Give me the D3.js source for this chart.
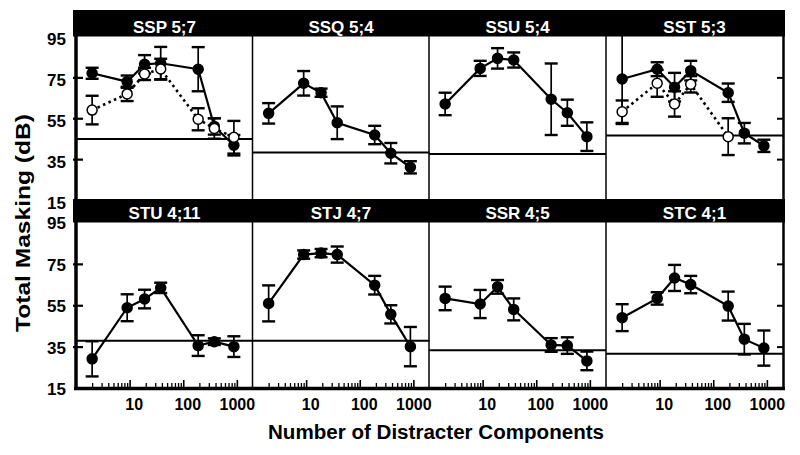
<!DOCTYPE html>
<html><head><meta charset="utf-8">
<script src="https://cdn.jsdelivr.net/npm/d3@7"></script>
<style>
body{margin:0;background:#fff}
svg{display:block}
text{font-family:"Liberation Sans",Arial,Helvetica,sans-serif;font-weight:bold;fill:#000}
</style>
</head><body><svg id="c" width="800" height="455"></svg>
<script>
// ---------- data ----------
const xValues = [2, 9, 19, 38, 190, 380, 880];           // number of distracter components
const panelNames = ["SSP 5;7", "SSQ 5;4", "SSU 5;4", "SST 5;3",
                    "STU 4;11", "STJ 4;7", "SSR 4;5", "STC 4;1"];

const sspFilled = [77.0, 72.9, 81.4, 81.9, 79.0, 51.0, 41.8];
const sspFilledErr = [2.7, 3.0, 4.5, 8.0, 10.8, 4.0, 5.0];
const sspOpen = [59.0, 66.9, 76.7, 79.1, 54.5, 50.0, 45.7];
const sspOpenErr = [7.0, 3.5, 3.0, 5.0, 5.4, 5.0, 8.0];

const ssqFilled = [57.4, 72.1, 67.5, 52.8, 46.8, 37.9, 31.0];
const ssqFilledErr = [5.0, 6.0, 2.0, 8.0, 4.5, 5.0, 3.0];

const ssuFilled = [62.0, 79.4, 84.3, 83.5, 64.3, 57.7, 46.0];
const ssuFilledErr = [5.5, 3.7, 5.0, 3.7, 17.5, 6.4, 7.0];

const sstFilled = [74.2, 79.0, 70.2, 78.3, 67.5, 47.7, 41.5];
const sstFilledErr = [22.0, 3.4, 7.0, 4.8, 4.5, 5.0, 3.0];
const sstOpen = [58.2, 72.1, 62.0, 71.6, 46.0];
const sstOpenErr = [5.5, 6.6, 6.2, 4.0, 9.0];

const stuFilled = [29.1, 53.8, 58.0, 63.4, 35.5, 37.4, 35.0];
const stuFilledErr = [8.5, 6.5, 4.5, 2.5, 5.0, 1.6, 5.0];

const stjFilled = [55.9, 79.5, 80.2, 79.5, 64.7, 50.6, 35.0];
const stjFilledErr = [8.7, 2.0, 2.0, 3.9, 4.5, 4.4, 9.5];

const ssrFilled = [58.3, 55.6, 63.9, 53.0, 35.8, 35.5, 28.1];
const ssrFilledErr = [5.7, 6.8, 3.3, 5.3, 3.3, 4.0, 4.5];

const stcFilled = [49.0, 58.3, 68.2, 65.0, 54.6, 38.6, 34.3];
const stcFilledErr = [6.5, 3.0, 6.3, 4.2, 7.0, 7.4, 8.5];

const referenceLevels = [44.9, 38.2, 37.5, 46.5, 37.9, 37.9, 33.3, 31.5];
const yTickLabels = [15, 35, 55, 75, 95];
const yInnerTicks = [35, 55, 75];
const xTickLabels = [10, 100, 1000];
const xMinorTicks = [2,3,4,5,6,7,8,9,20,30,40,50,60,70,80,90,200,300,400,500,600,700,800,900];

const filledSets = [
  [sspFilled, sspFilledErr], [ssqFilled, ssqFilledErr], [ssuFilled, ssuFilledErr], [sstFilled, sstFilledErr],
  [stuFilled, stuFilledErr], [stjFilled, stjFilledErr], [ssrFilled, ssrFilledErr], [stcFilled, stcFilledErr]
];
const openSets = [[sspOpen, sspOpenErr], null, null, [sstOpen, sstOpenErr], null, null, null, null];

// ---------- layout ----------
const svg = d3.select("#c");
const colLeft = [76, 252.5, 429, 606];
const panelW = 177;
const rows = [
  {band: 10, top: 36.5, bottom: 200},
  {band: 199, top: 222.5, bottom: 388}
];

const toPts = (vals, errs) => vals.map((v, i) => ({x: xValues[i], v: v, e: errs[i]}));

function drawSeries(g, x, y, pts, open) {
  const eb = g.append("g");
  pts.forEach(p => {
    const cx = x(p.x);
    eb.append("line").attr("x1", cx).attr("x2", cx)
      .attr("y1", y(p.v + p.e)).attr("y2", y(p.v - p.e))
      .attr("stroke", "#000").attr("stroke-width", 1.7);
    [p.v + p.e, p.v - p.e].forEach(w => {
      eb.append("line").attr("x1", cx - 6.5).attr("x2", cx + 6.5)
        .attr("y1", y(w)).attr("y2", y(w))
        .attr("stroke", "#000").attr("stroke-width", 2.4);
    });
  });
  const line = d3.line().x(d => x(d.x)).y(d => y(d.v));
  g.append("path").datum(pts).attr("d", line)
    .attr("fill", "none").attr("stroke", "#000")
    .attr("stroke-width", open ? 2.6 : 2.2)
    .attr("stroke-dasharray", open ? "2.5,3.5" : null);
  g.selectAll(null).data(pts).enter().append("circle")
    .attr("cx", d => x(d.x)).attr("cy", d => y(d.v)).attr("r", 5)
    .attr("fill", open ? "#fff" : "#000")
    .attr("stroke", "#000").attr("stroke-width", 1.5);
}

panelNames.forEach((name, i) => {
  const col = i % 4, row = Math.floor(i / 4);
  const R = rows[row];
  const left = colLeft[col];
  const x = d3.scaleLog().domain([1, 2000]).range([left, left + panelW]);
  const y = d3.scaleLinear().domain([15, 95]).range([R.bottom, R.top]);
  const g = svg.append("g");

  g.append("line").attr("x1", left).attr("x2", left + panelW)
    .attr("y1", y(referenceLevels[i])).attr("y2", y(referenceLevels[i]))
    .attr("stroke", "#000").attr("stroke-width", 2);

  drawSeries(g, x, y, toPts(filledSets[i][0], filledSets[i][1]), false);
  if (openSets[i]) drawSeries(g, x, y, toPts(openSets[i][0], openSets[i][1]), true);

  if (col === 0) {
    const lab = svg.append("g").attr("transform", `translate(${left - 10},${row === 0 ? 3 : 1})`)
      .call(d3.axisLeft(y).tickValues(yTickLabels).tickSize(0).tickPadding(0));
    lab.select(".domain").remove();
    lab.selectAll("text").style("font-size", "17px").style("font-family", null).attr("fill", "#000");
    const tk = svg.append("g").attr("transform", `translate(${left - 3},0)`)
      .call(d3.axisRight(y).tickValues(yInnerTicks).tickSize(10).tickFormat(""));
    tk.select(".domain").remove();
    tk.selectAll("line").attr("stroke-width", 2.2);
  }
  if (col === 3) {
    const tk = svg.append("g").attr("transform", `translate(${left + panelW},0)`)
      .call(d3.axisLeft(y).tickValues(yInnerTicks).tickSize(6).tickFormat(""));
    tk.select(".domain").remove();
    tk.selectAll("line").attr("stroke-width", 2);
  }

  if (row === 1) {
    const minor = svg.append("g").attr("transform", `translate(0,${R.bottom})`)
      .call(d3.axisTop(x).tickValues(xMinorTicks).tickSize(5).tickFormat(""));
    minor.select(".domain").remove();
    minor.selectAll("line").attr("stroke-width", 1.3);
    const major = svg.append("g").attr("transform", `translate(0,${R.bottom})`)
      .call(d3.axisTop(x).tickValues(xTickLabels).tickSize(8).tickFormat(""));
    major.select(".domain").remove();
    major.selectAll("line").attr("stroke-width", 1.6);
    const lab = svg.append("g").attr("transform", `translate(0,${R.bottom + 11})`)
      .call(d3.axisBottom(x).tickValues(xTickLabels).tickSize(0).tickPadding(0).tickFormat(d3.format("d")));
    lab.select(".domain").remove();
    lab.selectAll("text").style("font-size", "16px").style("font-family", null)
      .attr("fill", "#000").attr("dx", d => d === 1000 ? 0 : 4);
  }
});

// header bands
rows.forEach((R, r) => {
  svg.append("rect").attr("x", 73).attr("y", R.band)
    .attr("width", 712).attr("height", R.top - R.band).attr("fill", "#000");
  colLeft.forEach((left, c) => {
    svg.append("text").attr("x", left + panelW / 2).attr("y", R.top - 4)
      .attr("text-anchor", "middle").style("font-size", "17px").style("fill", "#fff")
      .text(panelNames[r * 4 + c]);
  });
});

// frame and dividers
svg.append("line").attr("x1", 76).attr("x2", 76).attr("y1", 10).attr("y2", 390)
  .attr("stroke", "#000").attr("stroke-width", 3.5);
svg.append("line").attr("x1", 783.5).attr("x2", 783.5).attr("y1", 10).attr("y2", 390)
  .attr("stroke", "#000").attr("stroke-width", 2.5);
colLeft.slice(1).forEach(cx => {
  svg.append("line").attr("x1", cx).attr("x2", cx).attr("y1", 36).attr("y2", 388)
    .attr("stroke", "#000").attr("stroke-width", 1.5);
});
svg.append("line").attr("x1", 74).attr("x2", 785).attr("y1", 388.5).attr("y2", 388.5)
  .attr("stroke", "#000").attr("stroke-width", 3.5);

// axis titles
svg.append("text").attr("x", 436).attr("y", 439).attr("text-anchor", "middle")
  .attr("textLength", 336).attr("lengthAdjust", "spacingAndGlyphs")
  .style("font-size", "20px").text("Number of Distracter Components");
svg.append("text").attr("transform", "translate(30,223) rotate(-90)").attr("text-anchor", "middle")
  .attr("textLength", 218).attr("lengthAdjust", "spacingAndGlyphs")
  .style("font-size", "20px").text("Total Masking (dB)");
</script>
</body></html>
